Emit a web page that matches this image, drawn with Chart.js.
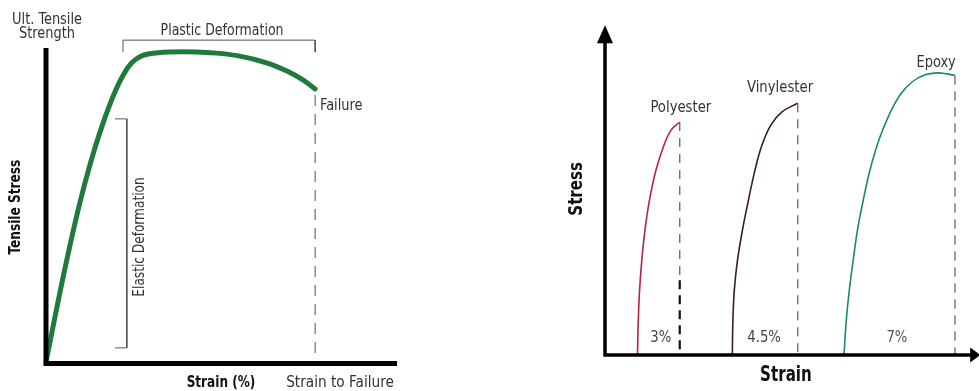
<!DOCTYPE html>
<html>
<head>
<meta charset="utf-8">
<script src="https://cdn.jsdelivr.net/npm/chart.js@4.4.1/dist/chart.umd.min.js"></script>
<style>
  html, body { margin: 0; padding: 0; background: #fff; }
  #wrap { position: relative; width: 979px; height: 391px; overflow: hidden; }
  #left { position: absolute; left: 0; top: 0; }
  #right { position: absolute; left: 540px; top: 0; }
</style>
</head>
<body>
<div id="wrap">
  <canvas id="left" width="420" height="391"></canvas>
  <canvas id="right" width="439" height="391"></canvas>
</div>
<script>
// --- left panel: generic tensile curve (schematic units 0-100) ---
const tensileStrain = [0, 2, 4, 6, 8, 10, 12, 14, 16, 18, 20, 22, 24.5, 27.5, 32, 39, 47, 55, 63, 69, 73.5, 76.9];
const tensileStress = [0.3, 11.5, 22.5, 33, 43, 52.3, 60.7, 68.3, 75.2, 81.4, 86.8, 91.3, 95.3, 97.6, 98.5, 98.8, 98.5, 97.5, 95.3, 92.6, 89.8, 87.0];
const failureStrain = 76.9;

// --- right panel: resin curves ---
const resinNames = ['Polyester', 'Vinylester', 'Epoxy'];
const resinElong = ['3%', '4.5%', '7%'];
const polyStrain = [8.78, 9.0, 9.35, 9.95, 10.81, 12.03, 13.78, 15.95, 17.84, 20.2];
const polyStress = [0, 10.8, 20.0, 29.2, 38.5, 47.7, 56.9, 64.6, 69.2, 71.7];
const vinylStrain = [34.41, 34.57, 34.95, 35.81, 37.16, 38.78, 40.54, 42.43, 44.86, 47.84, 52.1];
const vinylStress = [0, 10.8, 20.0, 29.2, 38.5, 47.7, 56.9, 64.6, 70.8, 74.8, 77.5];
const epoxyStrain = [64.59, 65.22, 66.03, 67.08, 68.24, 69.81, 71.62, 74.05, 76.76, 79.73, 82.97, 86.49, 89.73, 92.43, 94.59];
const epoxyStress = [0, 10.8, 20.0, 29.2, 38.5, 47.7, 56.9, 66.2, 73.8, 80.0, 84.0, 86.2, 86.8, 86.5, 86.0];

const FONT = '"DejaVu Sans Condensed", "Liberation Sans Narrow", sans-serif';
const pts = (xs, ys) => xs.map((x, i) => ({ x, y: ys[i] }));
const lastY = ys => ys[ys.length - 1];
const lastX = xs => xs[xs.length - 1];

function txt(chart, s, xv, yv, opt = {}) {
  const { ctx, scales: { x, y } } = chart;
  ctx.save();
  ctx.font = opt.font || `15px ${FONT}`;
  ctx.fillStyle = opt.color || '#333';
  ctx.textAlign = opt.align || 'center';
  ctx.textBaseline = opt.baseline || 'alphabetic';
  ctx.translate(x.getPixelForValue(xv), y.getPixelForValue(yv));
  if (opt.rot) ctx.rotate(opt.rot);
  if (opt.sx) ctx.scale(opt.sx, 1);
  ctx.fillText(s, 0, 0);
  ctx.restore();
}

function baseOpts(padding) {
  return {
    responsive: false,
    animation: false,
    layout: { padding },
    plugins: { legend: { display: false }, tooltip: { enabled: false } },
    scales: {
      x: { type: 'linear', min: 0, max: 100, display: false },
      y: { type: 'linear', min: 0, max: 100, display: false }
    },
    elements: { point: { radius: 0 } }
  };
}

const dashed = (xv, y0, y1, color, width, dash) => ({
  data: [{ x: xv, y: y0 }, { x: xv, y: y1 }],
  borderColor: color, borderWidth: width, borderDash: dash, clip: false
});

// left chart
const leftAnnot = {
  id: 'leftAnnot',
  afterDatasetsDraw(chart) {
    const { ctx, scales: { x, y } } = chart;
    ctx.save();
    ctx.strokeStyle = '#000';
    ctx.lineWidth = 5;
    ctx.beginPath();
    ctx.moveTo(x.getPixelForValue(0), y.getPixelForValue(100));
    ctx.lineTo(x.getPixelForValue(0), y.getPixelForValue(0) + 3);
    ctx.moveTo(x.getPixelForValue(0) - 2.5, y.getPixelForValue(0) + 0.5);
    ctx.lineTo(x.getPixelForValue(100.3), y.getPixelForValue(0) + 0.5);
    ctx.stroke();
    ctx.restore();

    txt(chart, 'Ult. Tensile', 0.3, 107.5, { font: `16px ${FONT}`, sx: 0.9 });
    txt(chart, 'Strength', 0.3, 103.3, { font: `16px ${FONT}`, sx: 0.9 });
    txt(chart, 'Plastic Deformation', 50.3, 104.1, { font: `15px ${FONT}`, sx: 0.93 });
    txt(chart, 'Failure', 78.3, 80.3, { font: `16px ${FONT}`, align: 'left', sx: 0.9 });
    txt(chart, 'Elastic Deformation', 26.9, 40, { font: `15px ${FONT}`, baseline: 'middle', rot: -Math.PI / 2, sx: 0.9 });
    txt(chart, 'Tensile Stress', -8.6, 49.5, { font: `bold 15px ${FONT}`, color: '#111', baseline: 'middle', rot: -Math.PI / 2, sx: 0.9 });
    txt(chart, 'Strain (%)', 50, -7.6, { font: `bold 16px ${FONT}`, color: '#111', sx: 0.84 });
    txt(chart, 'Strain to Failure', 84, -7.6, { font: `16px ${FONT}`, sx: 0.95 });
  }
};

const leftOpts = baseOpts({ left: 46, top: 48, right: 24, bottom: 28 });
new Chart(document.getElementById('left'), {
  type: 'line',
  data: {
    datasets: [
      {
        data: pts(tensileStrain, tensileStress),
        borderColor: '#1f7b3b', borderWidth: 5, tension: 0.4,
        borderCapStyle: 'round', clip: false
      },
      dashed(failureStrain, 85.1, 2.5, '#777', 1.3, [11, 8]),
      { // plastic deformation bracket
        data: [{ x: 22, y: 98.7 }, { x: 22, y: 102.5 }, { x: failureStrain, y: 102.5 }, { x: failureStrain, y: 98.7 }],
        borderColor: '#555', borderWidth: 1, clip: false
      },
      { // elastic deformation bracket
        data: [{ x: 19.7, y: 77.5 }, { x: 23.1, y: 77.5 }, { x: 23.1, y: 4.8 }, { x: 19.7, y: 4.8 }],
        borderColor: '#555', borderWidth: 1, clip: false
      }
    ]
  },
  options: leftOpts,
  plugins: [leftAnnot]
});

// right chart
const rightAnnot = {
  id: 'rightAnnot',
  afterDatasetsDraw(chart) {
    const { ctx, scales: { x, y } } = chart;
    const x0 = x.getPixelForValue(0), y0 = y.getPixelForValue(0);
    const yTop = y.getPixelForValue(101.5), xEnd = x.getPixelForValue(101.4);
    ctx.save();
    ctx.strokeStyle = '#000';
    ctx.fillStyle = '#000';
    ctx.lineWidth = 3.5;
    ctx.beginPath();
    ctx.moveTo(x0, y0 + 1.5);
    ctx.lineTo(x0, yTop + 12);
    ctx.moveTo(x0 - 1.5, y0);
    ctx.lineTo(xEnd - 6, y0);
    ctx.stroke();
    ctx.beginPath();
    ctx.moveTo(x0, yTop);
    ctx.lineTo(x0 - 8, yTop + 18);
    ctx.lineTo(x0 + 8, yTop + 18);
    ctx.closePath();
    ctx.moveTo(xEnd, y0);
    ctx.lineTo(xEnd - 10, y0 - 7.5);
    ctx.lineTo(xEnd - 10, y0 + 7.5);
    ctx.closePath();
    ctx.fill();
    ctx.restore();

    txt(chart, resinNames[0], 20.5, 74.8, { font: `16px ${FONT}`, sx: 0.92 });
    txt(chart, resinNames[1], 47.3, 80.9, { font: `16px ${FONT}`, sx: 0.92 });
    txt(chart, resinNames[2], 89.5, 88.6, { font: `16px ${FONT}`, sx: 0.9 });
    txt(chart, resinElong[0], 15.1, 4.0, { font: `16px ${FONT}`, color: '#444', sx: 0.92 });
    txt(chart, resinElong[1], 43.0, 4.0, { font: `16px ${FONT}`, color: '#444', sx: 0.92 });
    txt(chart, resinElong[2], 78.9, 4.0, { font: `16px ${FONT}`, color: '#555', sx: 0.92 });
    txt(chart, 'Stress', -7.6, 51.1, { font: `bold 19px ${FONT}`, color: '#111', baseline: 'middle', rot: -Math.PI / 2, sx: 0.88 });
    txt(chart, 'Strain', 48.9, -8, { font: `bold 21px ${FONT}`, color: '#111', sx: 0.8 });
  }
};

const rightOpts = baseOpts({ left: 65, top: 30, right: 4, bottom: 36 });
new Chart(document.getElementById('right'), {
  type: 'line',
  data: {
    datasets: [
      dashed(lastX(polyStrain), lastY(polyStress), 23, '#666', 1.3, [9, 7]),
      dashed(lastX(polyStrain), 23, 0, '#111', 2.2, [9, 6]),
      dashed(lastX(vinylStrain), lastY(vinylStress), 0, '#666', 1.3, [9, 7]),
      dashed(lastX(epoxyStrain), lastY(epoxyStress), 0, '#666', 1.3, [9, 7]),
      { data: pts(polyStrain, polyStress), borderColor: '#b8233f', borderWidth: 1.6, tension: 0.4 },
      { data: pts(vinylStrain, vinylStress), borderColor: '#3b1c25', borderWidth: 1.6, tension: 0.4 },
      { data: pts(epoxyStrain, epoxyStress), borderColor: '#1e8a5e', borderWidth: 1.6, tension: 0.4 }
    ]
  },
  options: rightOpts,
  plugins: [rightAnnot]
});
</script>
</body>
</html>
